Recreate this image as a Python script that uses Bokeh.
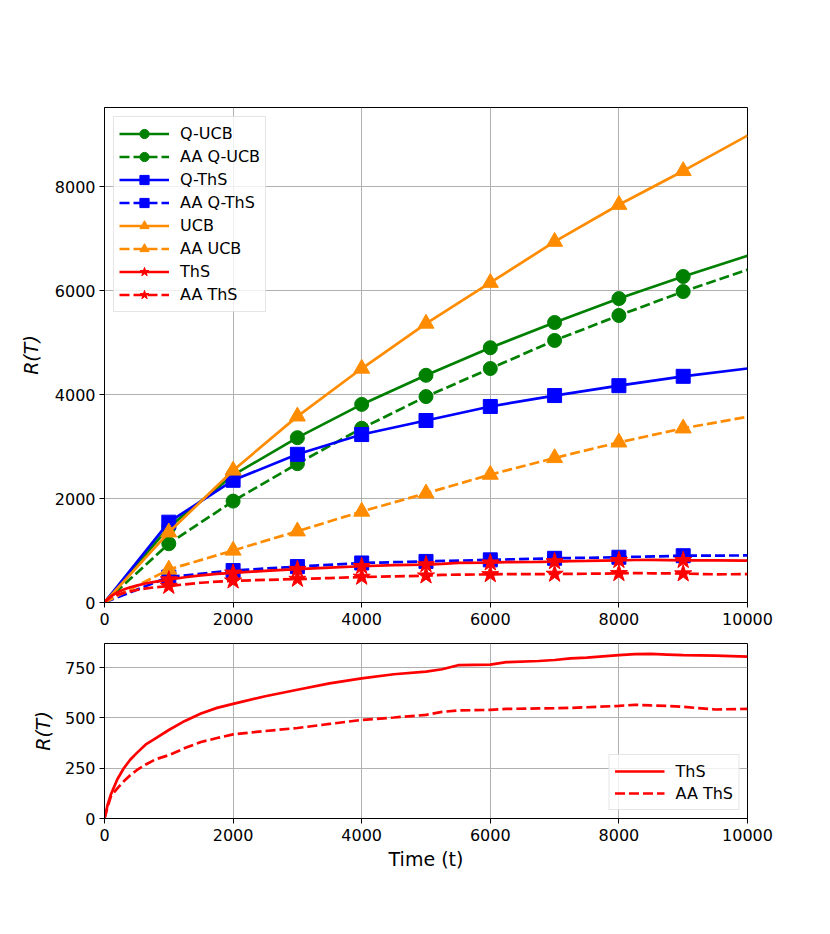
from bokeh.plotting import figure
from bokeh.models import Range1d, FixedTicker, Legend
from bokeh.layouts import column
from bokeh.embed import file_html
from bokeh.resources import INLINE

# ---------------- data ----------------
t_coarse = [0, 1000, 2000, 3000, 4000, 5000, 6000, 7000, 8000, 9000, 10000]
q_ucb = [0, 1450, 2450, 3170, 3810, 4370, 4900, 5385, 5845, 6270, 6670]
aa_q_ucb = [0, 1130, 1950, 2670, 3350, 3960, 4500, 5040, 5520, 5980, 6400]
q_ths = [0, 1545, 2350, 2850, 3230, 3500, 3770, 3980, 4170, 4350, 4500]
aa_q_ths = [0, 490, 615, 690, 760, 790, 820, 850, 870, 900, 905]
ucb = [0, 1350, 2540, 3580, 4500, 5365, 6150, 6940, 7650, 8300, 8980]
aa_ucb = [0, 635, 1000, 1370, 1750, 2100, 2460, 2780, 3080, 3350, 3570]

t_fine = [0, 50, 100, 200, 300, 400, 500, 650, 800, 1000, 1250, 1500, 1750,
          2000, 2500, 3000, 3500, 4000, 4500, 5000, 5250, 5500, 6000, 6250,
          6750, 7000, 7250, 7500, 8000, 8250, 8500, 8750, 9000, 9500, 10000]
ths = [0, 70, 120, 195, 250, 292, 325, 370, 400, 440, 485, 522, 550,
       570, 608, 640, 672, 697, 717, 730, 742, 762, 765, 777,
       783, 788, 796, 800, 812, 817, 818, 815, 812, 810, 805]
aa_ths = [0, 60, 110, 150, 185, 215, 240, 270, 295, 315, 350, 380, 400,
          418, 435, 450, 470, 490, 502, 515, 530, 537, 540, 545,
          547, 548, 550, 553, 560, 565, 562, 560, 555, 542, 545]

marker_times = [1000, 2000, 3000, 4000, 5000, 6000, 7000, 8000, 9000]

top_ticks = [0, 2000, 4000, 6000, 8000]
bottom_ticks = [0, 250, 500, 750]
x_ticks = [0, 2000, 4000, 6000, 8000, 10000]

FONT = "DejaVu Sans"
LW = 2.7
DASH = "10 4"


def style(p, yticks):
    p.xaxis.ticker = FixedTicker(ticks=x_ticks)
    p.yaxis.ticker = FixedTicker(ticks=yticks)
    for ax in [p.xaxis[0], p.yaxis[0]]:
        ax.major_label_text_font = FONT
        ax.major_label_text_font_size = "16px"
        ax.major_label_text_color = "black"
        ax.axis_label_text_font = FONT
        ax.axis_label_text_font_size = "19px"
        ax.axis_label_text_font_style = "normal"
        ax.axis_label_text_color = "black"
        ax.minor_tick_line_color = None
        ax.major_tick_out = 5
        ax.major_tick_in = 0
        ax.major_tick_line_color = "black"
        ax.axis_line_color = "black"
    p.xaxis.major_label_standoff = 5
    p.yaxis.major_label_standoff = 4
    p.grid.grid_line_color = "#b0b0b0"
    p.grid.grid_line_width = 1
    p.outline_line_color = "black"
    p.outline_line_width = 1
    p.outline_line_alpha = 1
    p.background_fill_color = "white"
    p.border_fill_color = "white"


def style_legend(leg, gh):
    leg.label_text_font = FONT
    leg.label_text_font_size = "16px"
    leg.label_text_color = "black"
    leg.glyph_width = 50
    leg.glyph_height = gh
    leg.label_height = gh
    leg.spacing = 0
    leg.label_standoff = 11
    leg.padding = 5
    leg.border_line_color = "#cccccc"
    leg.border_line_width = 1
    leg.background_fill_alpha = 0.8


# ---------------- top figure ----------------
top = figure(width=808, height=636, output_backend="svg", toolbar_location=None,
             x_range=Range1d(0, 10000), y_range=Range1d(0, 9520),
             min_border_left=104, min_border_right=61, min_border_top=107,
             min_border_bottom=34)
style(top, top_ticks)
top.yaxis.axis_label = "R(T)"
top.yaxis.axis_label_text_font_style = "italic"
top.yaxis.axis_label_standoff = 10

series = [
    ("Q-UCB", t_coarse, q_ucb, "green", "solid", "circle", 14),
    ("AA Q-UCB", t_coarse, aa_q_ucb, "green", DASH, "circle", 14),
    ("Q-ThS", t_coarse, q_ths, "blue", "solid", "square", 14),
    ("AA Q-ThS", t_coarse, aa_q_ths, "blue", DASH, "square", 14),
    ("UCB", t_coarse, ucb, "darkorange", "solid", "triangle", 16),
    ("AA UCB", t_coarse, aa_ucb, "darkorange", DASH, "triangle", 16),
    ("ThS", t_fine, ths, "red", "solid", "star", 18),
    ("AA ThS", t_fine, aa_ths, "red", DASH, "star", 18),
]

items = []
for label, tx, ry, col, dash, mk, sz in series:
    ln = top.line(tx, ry, line_color=col, line_width=LW, line_dash=dash)
    mx = [t for t in tx if t in marker_times]
    my = [r for t, r in zip(tx, ry) if t in marker_times]
    sc = top.scatter(mx, my, marker=mk, size=sz, fill_color=col, line_color=col)
    items.append((label, [ln, sc]))

leg = Legend(items=items, location="top_left")
style_legend(leg, 23)
leg.margin = 9
top.add_layout(leg)

# ---------------- bottom figure ----------------
bot = figure(width=808, height=242, output_backend="svg", toolbar_location=None,
             x_range=Range1d(0, 10000), y_range=Range1d(0, 870),
             min_border_left=104, min_border_right=61, min_border_top=7,
             min_border_bottom=60)
style(bot, bottom_ticks)
bot.yaxis.axis_label = "R(T)"
bot.yaxis.axis_label_text_font_style = "italic"
bot.yaxis.axis_label_standoff = 8
bot.xaxis.axis_label = "Time (t)"
bot.xaxis.axis_label_standoff = 4

l1 = bot.line(t_fine, ths, line_color="red", line_width=LW)
l2 = bot.line(t_fine, aa_ths, line_color="red", line_width=LW, line_dash=DASH)
leg2 = Legend(items=[("ThS", [l1]), ("AA ThS", [l2])], location="bottom_right")
style_legend(leg2, 22)
leg2.margin = 8
bot.add_layout(leg2)

layout = column(top, bot, spacing=0)
open("out.html", "w").write(file_html(layout, INLINE))
